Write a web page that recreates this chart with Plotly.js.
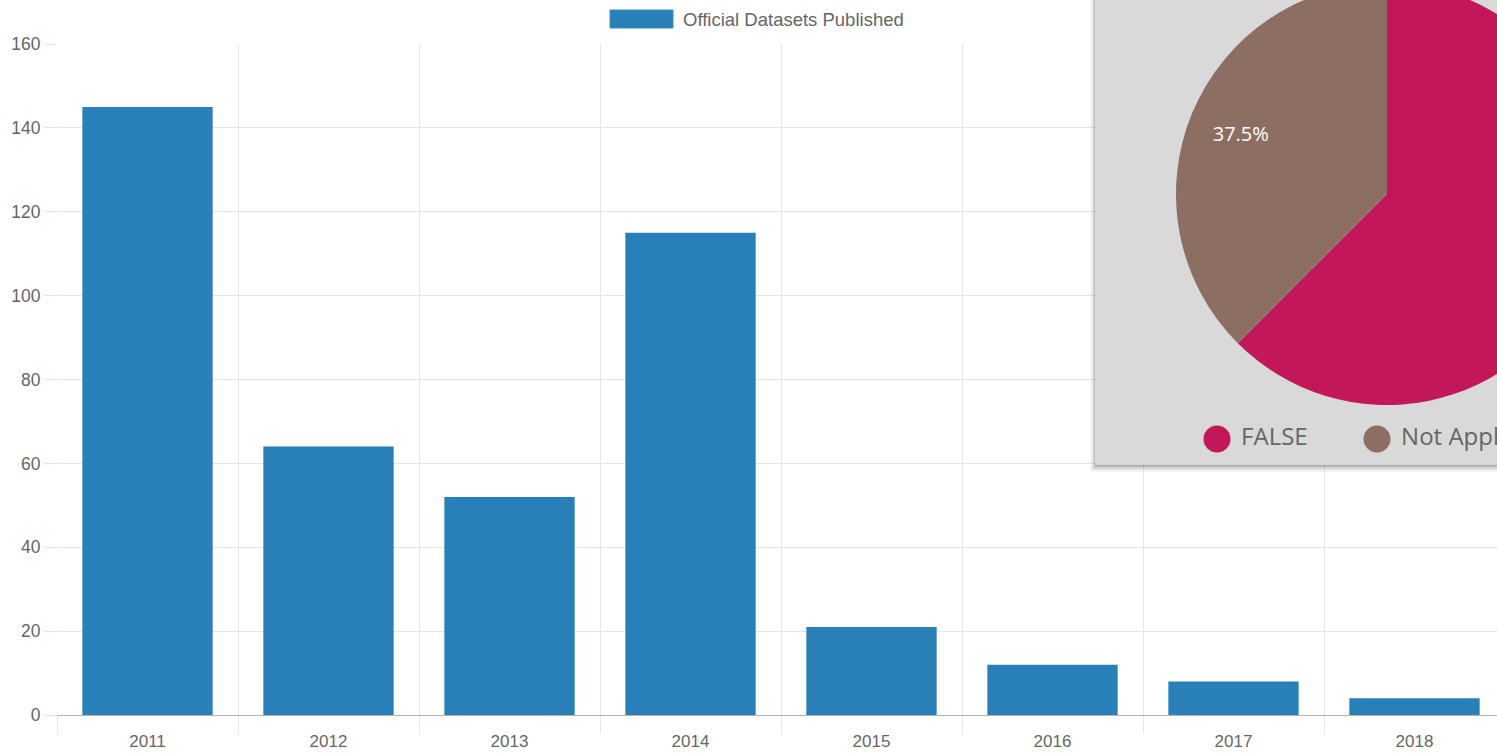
<!DOCTYPE html>
<html>
<head>
<meta charset="utf-8">
<script src="https://cdn.plot.ly/plotly-3.0.1.min.js"></script>
<style>
html, body { margin: 0; padding: 0; overflow: hidden; background: #ffffff; width: 1497px; height: 753px; }
#chart { position: absolute; left: 0; top: -17px; width: 1610px; height: 770px; }
</style>
</head>
<body>
<div id="chart"></div>
<script>
// ---- data ----
const years = ['2011', '2012', '2013', '2014', '2015', '2016', '2017', '2018'];
const datasetsPublished = [145, 64, 52, 115, 21, 12, 8, 4];
const seriesName = 'Official Datasets Published';
const yTickValues = [0, 20, 40, 60, 80, 100, 120, 140, 160];

const pieLabels = ['FALSE', 'Not Applicable'];
const pieValues = [5, 3];

// ---- styles ----
const barColor = '#2980b9';
const pieColors = ['#c2185b', '#8d6e63'];
const gridColor = '#e6e6e6';
const textColor = '#666666';

// ---- geometry helpers (page pixels -> paper fractions / axis units) ----
const W = 1610, H = 770, OFF = 17;
const fx = px => px / W;
const fy = py => (H - (py + OFF)) / H;
const plotLeft = 57, plotRight = 1505, plotTop = 44, plotBottom = 715;
const yMax = 160;
const dx = px => -0.5 + (px - plotLeft) * years.length / (plotRight - plotLeft);
const dy = py => (plotBottom - py) * yMax / (plotBottom - plotTop);

// pie geometry (page px)
const pieCx = 1387, pieCy = 194, pieR = 211;
const innerR = pieR * 0.5 + 1.5;

const barTrace = {
  type: 'bar',
  x: years,
  y: datasetsPublished,
  name: seriesName,
  marker: { color: barColor, line: { width: 0 } },
  xaxis: 'x', yaxis: 'y',
  showlegend: false,
  hoverinfo: 'x+y'
};

// outer ring carries the percentage labels (placed at mid-ring, like the original)
const pieTrace = {
  type: 'pie',
  labels: pieLabels,
  values: pieValues,
  sort: false,
  direction: 'clockwise',
  rotation: 0,
  hole: 0.5,
  marker: { colors: pieColors, line: { width: 0 } },
  textinfo: 'percent',
  textposition: 'inside',
  insidetextorientation: 'horizontal',
  textfont: { family: 'Open Sans', size: 20, color: '#ffffff' },
  domain: { x: [fx(pieCx - pieR), fx(pieCx + pieR)], y: [fy(pieCy + pieR), 1] },
  showlegend: false,
  hoverinfo: 'label+percent'
};

// inner disc fills the hole so the chart reads as a full pie
const pieCenterTrace = {
  type: 'pie',
  labels: pieLabels,
  values: pieValues,
  sort: false,
  direction: 'clockwise',
  rotation: 0,
  marker: { colors: pieColors, line: { width: 0 } },
  textinfo: 'none',
  domain: {
    x: [fx(pieCx - innerR), fx(pieCx + innerR)],
    y: [fy(pieCy + innerR), fy(pieCy - innerR)]
  },
  showlegend: false,
  hoverinfo: 'label+percent'
};

const pieLegendTrace = {
  type: 'scatter',
  mode: 'markers+text',
  x: pieLabels.map((_, i) => i),
  y: pieLabels.map(() => 0),
  text: pieLabels,
  texttemplate: '\u00A0%{text}',
  textposition: 'middle right',
  textfont: { family: 'Open Sans', size: 24, color: textColor },
  marker: { size: 27, color: pieColors, line: { width: 0 } },
  xaxis: 'x2', yaxis: 'y2',
  cliponaxis: false,
  showlegend: false,
  hoverinfo: 'skip'
};

// panel shadow + background
const shapes = [];
const shadowSteps = [
  { l: 1090, b: 472, o: 0.035 },
  { l: 1091.5, b: 470.5, o: 0.05 },
  { l: 1093, b: 469, o: 0.07 },
  { l: 1094, b: 467.5, o: 0.09 },
  { l: 1094.7, b: 466.3, o: 0.11 }
];
// part of the panel above the plotting area (paper layer)
shadowSteps.forEach(s => {
  shapes.push({
    type: 'rect', layer: 'below', xref: 'paper', yref: 'paper',
    x0: fx(s.l), x1: 1, y0: fy(plotTop), y1: 1,
    fillcolor: 'rgba(0,0,0,' + s.o + ')', line: { width: 0 }
  });
});
shapes.push({
  type: 'rect', layer: 'below', xref: 'paper', yref: 'paper',
  x0: fx(1095), x1: 1, y0: fy(plotTop), y1: 1,
  fillcolor: '#d9d9d9', line: { width: 0 }
});
// part of the panel inside the plotting area (covers the gridlines)
shadowSteps.forEach(s => {
  shapes.push({
    type: 'rect', layer: 'between', xref: 'x', yref: 'y',
    x0: dx(s.l), x1: dx(1700), y0: dy(s.b), y1: dy(plotTop),
    fillcolor: 'rgba(0,0,0,' + s.o + ')', line: { width: 0 }
  });
});
shapes.push({
  type: 'rect', layer: 'between', xref: 'x', yref: 'y',
  x0: dx(1095), x1: dx(1700), y0: dy(465), y1: dy(plotTop - 1),
  fillcolor: '#d9d9d9', line: { width: 0 }
});
// bar legend swatch
shapes.push({
  type: 'rect', layer: 'above', xref: 'paper', yref: 'paper',
  x0: fx(610), x1: fx(673), y0: fy(28), y1: fy(10),
  fillcolor: barColor, line: { color: '#3f8ec4', width: 1 }
});

const layout = {
  width: W, height: H,
  margin: { l: 0, r: 0, t: 0, b: 0, pad: 0 },
  paper_bgcolor: '#ffffff',
  plot_bgcolor: 'rgba(0,0,0,0)',
  font: { family: 'Liberation Sans, Arial, sans-serif', size: 17, color: textColor },
  bargap: 0.28,
  showlegend: false,
  xaxis: {
    type: 'category',
    domain: [fx(plotLeft), fx(plotRight)],
    range: [-0.5, years.length - 0.5],
    anchor: 'y',
    tickson: 'boundaries',
    ticks: 'outside', ticklen: 18, tickcolor: gridColor, tickwidth: 1,
    ticklabelstandoff: 14,
    showgrid: true, gridcolor: gridColor, gridwidth: 1,
    showline: false, zeroline: false,
    tickfont: { size: 17, color: textColor },
    fixedrange: true
  },
  yaxis: {
    domain: [fy(plotBottom), fy(plotTop)],
    range: [0, yMax],
    anchor: 'x',
    tickmode: 'array', tickvals: yTickValues,
    ticks: 'outside', ticklen: 12, tickcolor: gridColor, tickwidth: 1,
    showgrid: true, gridcolor: gridColor, gridwidth: 1,
    zeroline: true, zerolinecolor: '#b3b3b3', zerolinewidth: 1,
    showline: false,
    tickfont: { size: 17.5, color: textColor },
    fixedrange: true
  },
  xaxis2: {
    domain: [fx(1217), fx(1377)], range: [0, 1], anchor: 'y2',
    visible: false, fixedrange: true
  },
  yaxis2: {
    domain: [fy(440), fy(438)], range: [-1, 1], anchor: 'x2',
    visible: false, fixedrange: true
  },
  shapes: shapes,
  annotations: [{
    xref: 'paper', yref: 'paper',
    x: fx(681), y: fy(19), xanchor: 'left', yanchor: 'middle',
    text: seriesName, showarrow: false,
    font: { family: 'Liberation Sans, Arial, sans-serif', size: 18.5, color: textColor }
  }]
};

Plotly.newPlot('chart', [barTrace, pieTrace, pieCenterTrace, pieLegendTrace], layout, { displayModeBar: false, staticPlot: true });
</script>
</body>
</html>
